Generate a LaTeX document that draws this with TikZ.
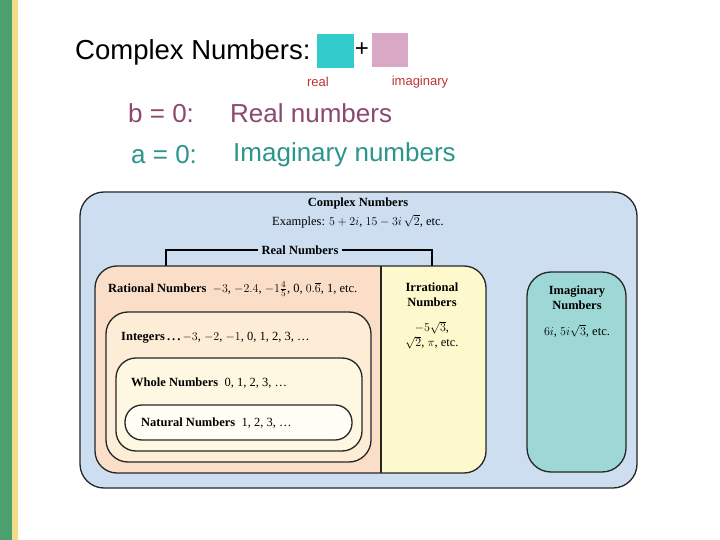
\documentclass[tikz,border=0pt]{standalone}
\usepackage{amsmath}
\usepackage{fontspec}
\setmainfont{Liberation Serif}
\newfontfamily\arial{Liberation Sans}
\definecolor{barg}{RGB}{76,160,110}
\definecolor{bary}{RGB}{245,220,140}
\definecolor{sqc}{RGB}{51,204,204}
\definecolor{sqp}{RGB}{216,168,196}
\definecolor{cpx}{RGB}{204,222,240}
\definecolor{rat}{RGB}{250,222,200}
\definecolor{irr}{RGB}{254,249,204}
\definecolor{intc}{RGB}{253,236,214}
\definecolor{whc}{RGB}{254,248,226}
\definecolor{natc}{RGB}{255,253,244}
\definecolor{imc}{RGB}{158,216,214}
\definecolor{bc}{RGB}{140,72,110}
\definecolor{ac}{RGB}{42,150,140}
\definecolor{redl}{RGB}{190,50,50}
\begin{document}
\begin{tikzpicture}[x=1pt,y=-1pt,
  box/.style={draw=black!85,line width=1.3pt},
  lab/.style={inner sep=0pt,font=\fontsize{12.5}{15}\selectfont},
  blab/.style={inner sep=0pt,font=\bfseries\fontsize{12.5}{15}\selectfont},
  top/.style={inner sep=0pt,anchor=west,font=\arial\fontsize{26}{30}\selectfont}]
\useasboundingbox (0,0) rectangle (720,540);
\fill[white] (0,0) rectangle (720,540);
\fill[barg] (0,0) rectangle (12,540);
\fill[bary] (12,0) rectangle (18,540);
% header
\node[inner sep=0pt,anchor=west,font=\arial\fontsize{27.5}{30}\selectfont] (t) at (75,52) {Complex Numbers:};
\fill[sqc] (317,34) rectangle (354,68);
\node[inner sep=0pt,font=\arial\fontsize{24}{26}\selectfont] (plus) at (362,50) {+};
\fill[sqp] (372,33) rectangle (408,67);
\node[inner sep=0pt,font=\arial\fontsize{13}{15}\selectfont,text=redl] (re) at (318,82) {real};
\node[inner sep=0pt,font=\arial\fontsize{13}{15}\selectfont,text=redl] (im) at (420,82) {imaginary};
\node[top,text=bc] (b0) at (128,113) {b = 0:};
\node[top,text=bc] (rn) at (230,113) {Real numbers};
\node[top,text=ac] (a0) at (131,155) {a = 0:};
\node[top,text=ac] (inu) at (233,155) {Imaginary numbers};
% outer
\draw[box,fill=cpx,rounded corners=24pt] (80,192) rectangle (637,488);
\node[blab] (cn) at (358,203) {Complex Numbers};
\node[lab] (ex) at (358,221) {Examples: $5+2i$, $15-3i\,\sqrt{2}$, etc.};
% real bracket
\node[blab,fill=cpx,inner xsep=3pt] (rl) at (300,250) {Real Numbers};
\draw[line width=1.2pt] (166,266) |- (rl.west);
\draw[line width=1.2pt] (432,266) |- (rl.east);
% real box
\begin{scope}
\clip[rounded corners=22pt] (95,266) rectangle (486,473);
\fill[rat] (95,266) rectangle (381,473);
\fill[irr] (381,266) rectangle (486,473);
\end{scope}
\draw[box,rounded corners=22pt] (95,266) rectangle (486,473);
\draw[box] (381,266) -- (381,473);
\node[lab,anchor=west] (ratl) at (108,289) {\textbf{Rational Numbers} \ $-3$, $-2.4$, $-1\tfrac{4}{5}$, 0, $0.\overline{6}$, 1, etc.};
\node[blab,align=center] (irrl) at (432,295) {Irrational\\Numbers};
\node[lab,align=center] (irrx) at (432,335) {$-5\sqrt{3}$,\\$\sqrt{2}$, $\pi$, etc.};
% nested
\draw[box,fill=intc,rounded corners=22pt] (106,312) rectangle (371,462);
\node[lab,anchor=west] (intl) at (121,338) {\textbf{Integers\,.\,.\,.}\,$-3$, $-2$, $-1$, 0, 1, 2, 3, \dots};
\draw[box,fill=whc,rounded corners=20pt] (116,358) rectangle (362,451);
\node[lab,anchor=west] (wh) at (131,383) {\textbf{Whole Numbers} \ 0, 1, 2, 3, \dots};
\draw[box,fill=natc,rounded corners=17pt] (125,405) rectangle (352,440);
\node[lab,anchor=west] (nat) at (141,423) {\textbf{Natural Numbers} \ 1, 2, 3, \dots};
% imaginary
\draw[box,fill=imc,rounded corners=24pt] (527,272) rectangle (626,472);
\node[blab,align=center] (imn) at (577,298) {Imaginary\\Numbers};
\node[lab] (imx) at (577,331) {$6i$, $5i\sqrt{3}$, etc.};
\end{tikzpicture}
\end{document}
